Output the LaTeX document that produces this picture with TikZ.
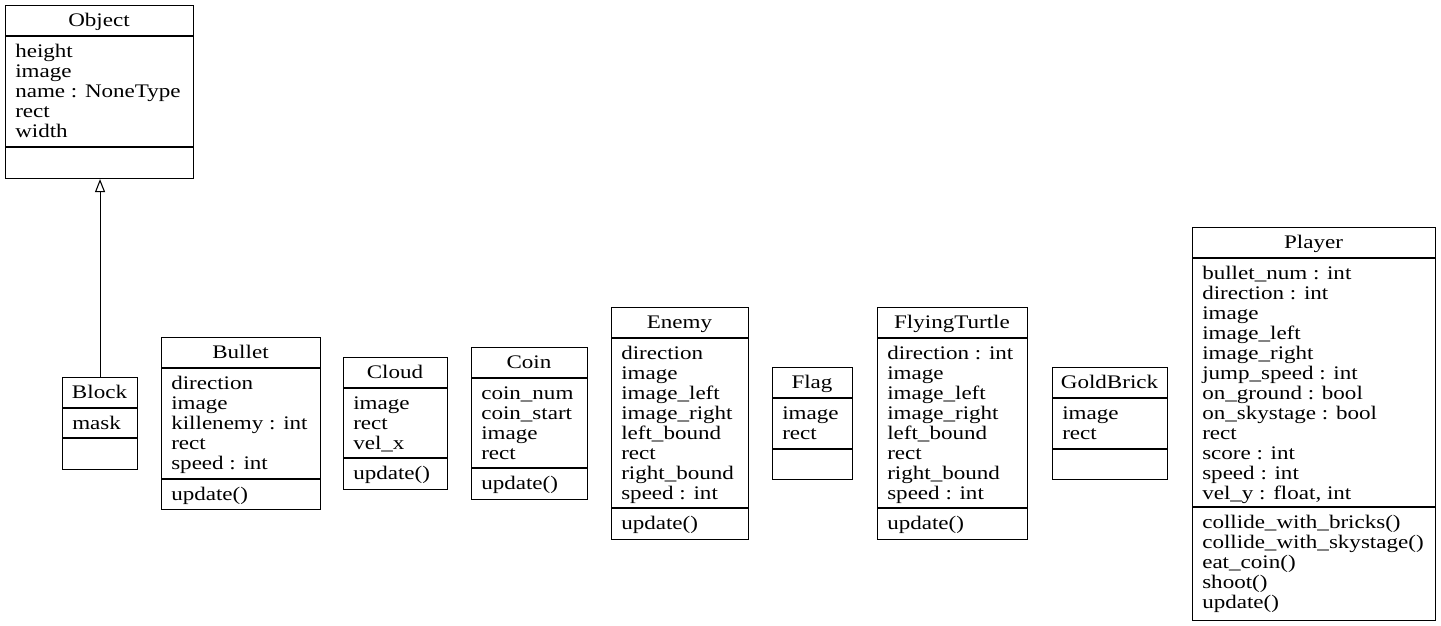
\documentclass[tikz,border=0pt]{standalone}
\usepackage{fontspec}
\setmainfont{Liberation Serif}[FakeStretch=1.2]
\usetikzlibrary{arrows.meta}
\tikzset{
  classbox/.style={draw, line width=0.8pt, anchor=north west, inner sep=0pt},
  divider/.style={line width=0.8pt},
  ctitle/.style={anchor=base, inner sep=0pt},
  cline/.style={anchor=base west, inner sep=0pt},
  inherit/.style={line width=0.8pt, -{Triangle[open, length=9.75pt, width=7.5pt, line width=0.8pt]}}
}
% #1 name, #2 x1, #3 x2, #4 top, #5 second divider, #6 bottom, #7 title, #8 attributes, #9 methods
\newcommand\umlclass[9]{%
  \node[classbox, minimum width={(#3-#2)*0.75pt}, minimum height={(#6-#4)*0.75pt}] (#1) at (#2,#4) {};
  \draw[divider] (#2,#4+31) -- (#3,#4+31);
  \draw[divider] (#2,#5) -- (#3,#5);
  \node[ctitle] (#1-t) at ({(#2+#3)/2},#4+21) {#7};
  \foreach \t [count=\i from 0] in {#8} { \node[cline] (#1-a\i) at (#2+10,#4+52+20*\i) {\t}; }
  \foreach \t [count=\i from 0] in {#9} { \node[cline] (#1-m\i) at (#2+10,#5+21+20*\i) {\t}; }
}
\begin{document}
\begin{tikzpicture}[x=0.75pt, y=-0.75pt, font=\fontsize{14.4}{15}\selectfont]
\useasboundingbox (0,0) rectangle (1441,625);
\umlclass{Object}{5}{193}{5}{147}{178}{Object}{height, image, name : NoneType, rect, width}{}
\umlclass{Block}{62}{137}{377}{438}{469}{Block}{mask}{}
\umlclass{Bullet}{161}{320}{337}{479}{509}{Bullet}{direction, image, killenemy : int, rect, speed : int}{update()}
\umlclass{Cloud}{343}{447}{357}{458}{489}{Cloud}{image, rect, vel\_x}{update()}
\umlclass{Coin}{471}{587}{347}{468}{499}{Coin}{coin\_num, coin\_start, image, rect}{update()}
\umlclass{Enemy}{611}{748}{307}{508}{539}{Enemy}{direction, image, image\_left, image\_right, left\_bound, rect, right\_bound, speed : int}{update()}
\umlclass{Flag}{772}{852}{367}{449}{479}{Flag}{image, rect}{}
\umlclass{FlyingTurtle}{877}{1027}{307}{508}{539}{FlyingTurtle}{direction : int, image, image\_left, image\_right, left\_bound, rect, right\_bound, speed : int}{update()}
\umlclass{GoldBrick}{1052}{1167}{367}{449}{479}{GoldBrick}{image, rect}{}
\umlclass{Player}{1192}{1435}{227}{507}{620}{Player}{bullet\_num : int, direction : int, image, image\_left, image\_right, jump\_speed : int, on\_ground : bool, on\_skystage : bool, rect, score : int, speed : int, {vel\_y : float, int}}{collide\_with\_bricks(), collide\_with\_skystage(), eat\_coin(), shoot(), update()}
\draw[inherit] (Block.north) -- (Block.north |- Object.south);
\end{tikzpicture}
\end{document}
